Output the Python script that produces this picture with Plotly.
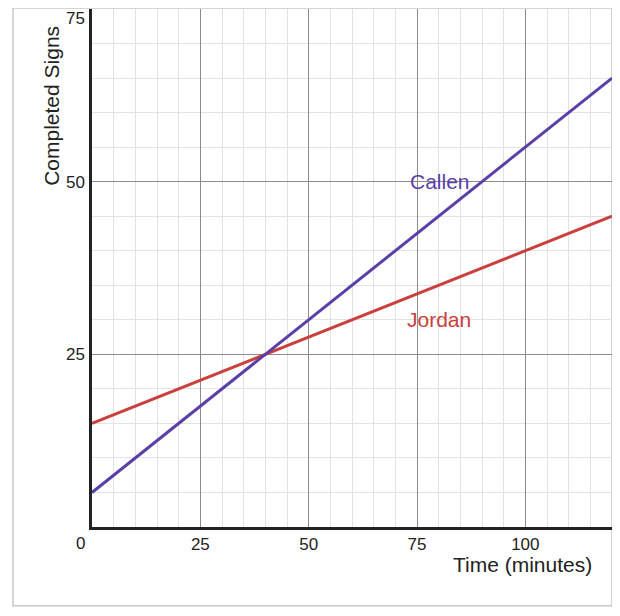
import plotly.graph_objects as go

# data
time_min = [0, 120]
callen = [5, 65]
jordan = [15, 45]
x_ticks = [25, 50, 75, 100]
y_ticks = [25, 50]

PURPLE = '#5b3fa8'
RED = '#c9403c'
FONT = 'Liberation Sans, Arial, sans-serif'

fig = go.Figure()
fig.add_trace(go.Scatter(x=time_min, y=jordan, mode='lines', name='Jordan',
                         line=dict(color=RED, width=3), hoverinfo='skip'))
fig.add_trace(go.Scatter(x=time_min, y=callen, mode='lines', name='Callen',
                         line=dict(color=PURPLE, width=3), hoverinfo='skip'))

# series labels
fig.add_annotation(x=80.4, y=50, text='Callen', showarrow=False,
                   font=dict(size=21, color=PURPLE, family=FONT))
fig.add_annotation(x=80, y=30, text='Jordan', showarrow=False,
                   font=dict(size=21, color=RED, family=FONT))

# extra tick labels and axis titles
fig.add_annotation(x=0, y=0, xshift=-12, yshift=-16, text='0', showarrow=False,
                   font=dict(size=17, color='#222', family=FONT))
fig.add_annotation(x=0, y=75, xanchor='right', xshift=-5, yshift=-9, text='75',
                   showarrow=False, font=dict(size=17, color='#222', family=FONT))
fig.add_annotation(xref='paper', yref='paper', x=-0.077, y=0.813,
                   xanchor='center', yanchor='middle', text='Completed Signs',
                   textangle=-90, showarrow=False,
                   font=dict(size=21, color='#222', family=FONT))
fig.add_annotation(xref='paper', yref='paper', x=0.966, y=-0.072,
                   xanchor='right', yanchor='middle',
                   text='Time (minutes)', showarrow=False,
                   font=dict(size=21, color='#222', family=FONT))

# outer border
fig.add_shape(type='rect', xref='paper', yref='paper',
              x0=-0.152, x1=1.0, y0=-0.152, y1=1.002,
              line=dict(color='#c8c8c8', width=1.5), layer='below')

fig.update_xaxes(range=[0, 120], tickvals=x_ticks, showgrid=True,
                 gridcolor='#8c8c8c', gridwidth=1,
                 minor=dict(dtick=5, showgrid=True, gridcolor='#e2e2e2', gridwidth=1),
                 showline=True, linecolor='#222', linewidth=2.5,
                 zeroline=False, ticks='', ticklabelstandoff=0,
                 tickfont=dict(size=17, color='#222', family=FONT))
fig.update_yaxes(range=[0, 75], tickvals=y_ticks, showgrid=True,
                 gridcolor='#8c8c8c', gridwidth=1,
                 minor=dict(dtick=5, showgrid=True, gridcolor='#e2e2e2', gridwidth=1),
                 showline=True, linecolor='#222', linewidth=2.5,
                 zeroline=False, ticks='', ticklabelstandoff=1,
                 tickfont=dict(size=17, color='#222', family=FONT))

# page body adds about 8px of offset, so the figure is sized to sit inside the window
fig.update_layout(width=606, height=600, showlegend=False,
                  margin=dict(l=84, r=2, t=1, b=81),
                  plot_bgcolor='white', paper_bgcolor='white',
                  font=dict(family=FONT))

fig.write_html("out.html")
